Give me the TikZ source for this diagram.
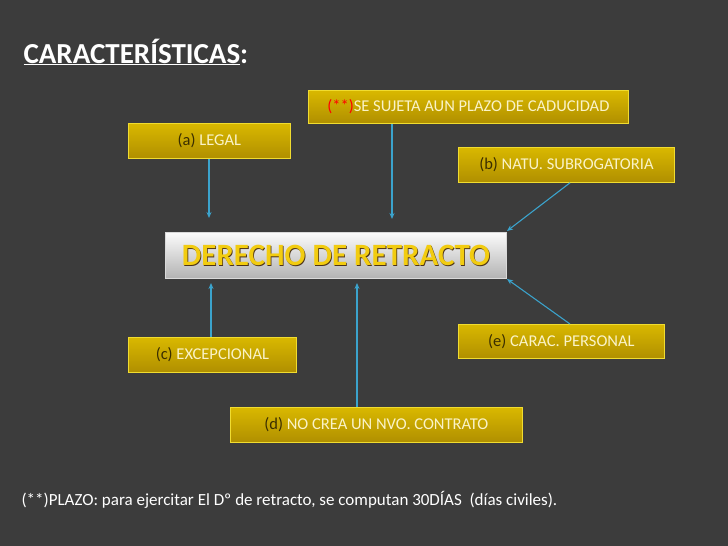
\documentclass[tikz,border=0pt]{standalone}
\usepackage{fontspec}
\setmainfont{Carlito}
\usetikzlibrary{arrows.meta}
\definecolor{bg}{HTML}{3C3C3C}
\definecolor{goldA}{HTML}{D9B800}
\definecolor{goldB}{HTML}{B08F00}
\definecolor{goldE}{HTML}{F0DC30}
\definecolor{lt}{HTML}{FAF3C8}
\definecolor{dk}{HTML}{3A2E00}
\definecolor{arr}{HTML}{3BA3CC}
\definecolor{ttl}{HTML}{F2CC10}
\tikzset{
  goldbox/.style={draw=goldE, line width=0.8pt, top color=goldA, bottom color=goldB, anchor=north west, inner sep=0pt, font=\fontsize{16.5}{18}\selectfont, text=lt},
  conn/.style={draw=arr, line width=1.1pt, -{Stealth[length=6pt,width=5pt]}}
}
\begin{document}
\begin{tikzpicture}[x=1pt,y=-1pt]
\fill[bg] (0,0) rectangle (728,546);
\useasboundingbox (0,0) rectangle (728,546);
\node[anchor=west, text=white, font=\fontsize{29}{31}\selectfont\bfseries] (title) at (20,52) {\underline{CARACTERÍSTICAS}:};
\node[goldbox, minimum width=320, minimum height=33] (p) at (308,90) {\textcolor{red}{(**)}SE SUJETA AUN PLAZO DE CADUCIDAD};
\node[goldbox, minimum width=162, minimum height=35] (a) at (128,123) {\textcolor{dk}{(a)} LEGAL};
\node[goldbox, minimum width=216, minimum height=35] (b) at (458,147) {\textcolor{dk}{(b)} NATU. SUBROGATORIA};
\node[draw=white!70!gray, line width=1pt, top color=white!97!gray, bottom color=gray!60!white, anchor=north west, minimum width=341, minimum height=46, inner sep=0pt] (c0) at (165,232) {};
\node[font=\fontsize{31}{33}\selectfont\bfseries, text=black!60!brown] (c0s) at ([xshift=0.8pt,yshift=-0.8pt]c0.center) {DERECHO DE RETRACTO};
\node[font=\fontsize{31}{33}\selectfont\bfseries, text=ttl] (c0t) at (c0.center) {DERECHO DE RETRACTO};
\node[goldbox, minimum width=206, minimum height=34] (e) at (458,324) {\textcolor{dk}{(e)} CARAC. PERSONAL};
\node[goldbox, minimum width=168, minimum height=35] (c) at (128,337) {\textcolor{dk}{(c)} EXCEPCIONAL};
\node[goldbox, minimum width=292, minimum height=35] (d) at (230,407) {\textcolor{dk}{(d)} NO CREA UN NVO. CONTRATO};
\coordinate (ta) at (209,218);
\coordinate (tp) at (392,219);
\coordinate (tb) at (507,231);
\coordinate (te) at (507,279);
\coordinate (tc) at (211,283);
\coordinate (td) at (357,283);
\draw[conn] (a.south -| ta) -- (ta);
\draw[conn] (p.south -| tp) -- (tp);
\draw[conn] (b.south -| 570,0) -- (tb);
\draw[conn] (e.north -| 570,0) -- (te);
\draw[conn] (c.north -| tc) -- (tc);
\draw[conn] (d.north -| td) -- (td);
\node[anchor=west, text=white, font=\fontsize{17}{19}\selectfont] (fn) at (18,500) {(**)PLAZO: para ejercitar El Dº de retracto, se computan 30DÍAS\ \ (días civiles).};
\end{tikzpicture}
\end{document}
